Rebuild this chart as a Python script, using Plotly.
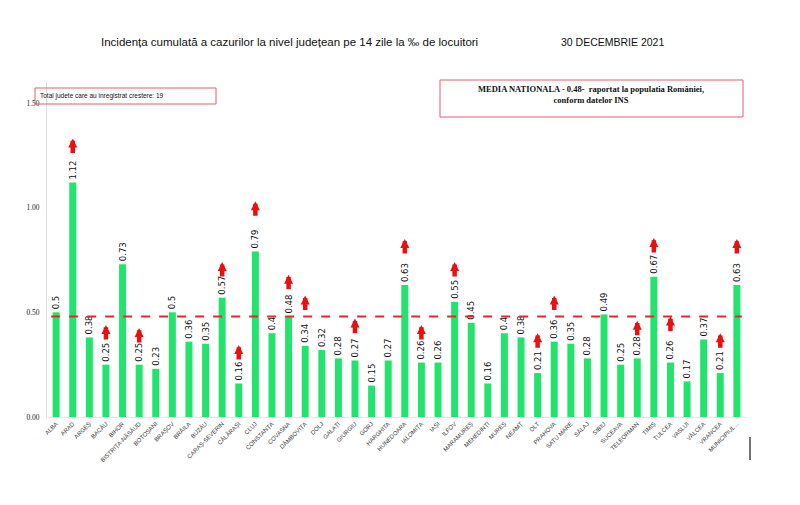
import plotly.graph_objects as go

judete = ["ALBA", "ARAD", "ARGEȘ", "BACĂU", "BIHOR", "BISTRIȚA-NĂSĂUD", "BOTOȘANI", "BRAȘOV",
          "BRĂILA", "BUZĂU", "CARAȘ-SEVERIN", "CĂLĂRAȘI", "CLUJ", "CONSTANȚA", "COVASNA",
          "DÂMBOVIȚA", "DOLJ", "GALAȚI", "GIURGIU", "GORJ", "HARGHITA", "HUNEDOARA", "IALOMIȚA",
          "IAȘI", "ILFOV", "MARAMUREȘ", "MEHEDINȚI", "MUREȘ", "NEAMȚ", "OLT", "PRAHOVA",
          "SATU MARE", "SĂLAJ", "SIBIU", "SUCEAVA", "TELEORMAN", "TIMIȘ", "TULCEA", "VASLUI",
          "VÂLCEA", "VRANCEA", "MUNICIPIUL..."]
incidenta = [0.5, 1.12, 0.38, 0.25, 0.73, 0.25, 0.23, 0.5, 0.36, 0.35, 0.57, 0.16, 0.79, 0.4,
             0.48, 0.34, 0.32, 0.28, 0.27, 0.15, 0.27, 0.63, 0.26, 0.26, 0.55, 0.45, 0.16, 0.4,
             0.38, 0.21, 0.36, 0.35, 0.28, 0.49, 0.25, 0.28, 0.67, 0.26, 0.17, 0.37, 0.21, 0.63]
media_nationala = 0.48
# counties with increase and the level at which the red arrow tip sits
crestere = ["ARAD", "BACĂU", "BISTRIȚA-NĂSĂUD", "CARAȘ-SEVERIN", "CĂLĂRAȘI", "CLUJ", "COVASNA",
            "DÂMBOVIȚA", "GIURGIU", "HUNEDOARA", "IALOMIȚA", "ILFOV", "OLT", "PRAHOVA",
            "TELEORMAN", "TIMIȘ", "TULCEA", "VRANCEA", "MUNICIPIUL..."]
sageata_varf = [1.33, 0.44, 0.425, 0.74, 0.344, 1.03, 0.68, 0.58, 0.47, 0.85, 0.44, 0.74, 0.40,
                0.58, 0.46, 0.855, 0.48, 0.40, 0.85]
y_ticks = [0.0, 0.5, 1.0, 1.5]
y_tick_text = ["0.00", "0.50", "1.00", "1.50"]

idx = list(range(len(judete)))

# page has an 8px body margin: figure pixel = page pixel - 8
OFF = 8
W, H = 784, 489
L, R, T, B = 39, 46, 74, 80
pw, ph = W - L - R, H - T - B
def px(x):
    return (x - OFF - L) / pw
def py(y):
    return (H - B - (y - OFF)) / ph

fig = go.Figure()
fig.add_trace(go.Bar(
    x=idx, y=incidenta,
    marker=dict(color="#22E46C", line=dict(width=0)),
    text=[f"{v:g}" for v in incidenta],
    textposition="outside", textangle=-90,
    textfont=dict(family="DejaVu Sans", size=8.5, color="#111111"),
    constraintext="none",
    cliponaxis=False,
    width=0.42,
    hoverinfo="skip",
))

# national average dashed line
fig.add_shape(type="line", xref="x", yref="y", x0=-0.3, x1=len(judete) - 0.7,
              y0=media_nationala, y1=media_nationala,
              line=dict(color="#E5262B", width=2.2, dash="dash"))

# red arrows for counties with increase
for j, top in zip(crestere, sageata_varf):
    i = judete.index(j)
    fig.add_annotation(x=i, y=top, xref="x", yref="y", text="", showarrow=True,
                       ax=0, ay=16, arrowhead=2, arrowsize=0.4, arrowwidth=4.5,
                       arrowcolor="#E81010", standoff=0, startstandoff=0)

fig.update_layout(
    width=W, height=H,
    margin=dict(l=L, r=R, t=T, b=B, autoexpand=False),
    paper_bgcolor="white", plot_bgcolor="white",
    showlegend=False,
    xaxis=dict(
        tickmode="array", tickvals=idx, ticktext=judete, tickangle=-45,
        tickfont=dict(family="Liberation Sans", size=6, color="#3A3A3A"),
        range=[-0.55, len(judete) - 0.45],
        showgrid=False, zeroline=False, showline=True, linecolor="#E6E6E6", linewidth=1,
        ticks="",
    ),
    yaxis=dict(
        range=[0, 1.6], tickmode="array", tickvals=y_ticks, ticktext=y_tick_text,
        tickfont=dict(family="Liberation Serif", size=7.5, color="#222222"),
        showgrid=False, zeroline=False, showline=True, linecolor="#DDDDDD", linewidth=1,
        ticks="", ticklabelstandoff=5,
    ),
)

fig.add_annotation(xref="paper", yref="paper", x=px(289), y=py(42),
                   text="Incidența cumulată a cazurilor la nivel județean pe 14 zile la ‰ de locuitori",
                   showarrow=False, font=dict(family="Liberation Sans", size=11.5, color="#111111"),
                   xanchor="center", yanchor="middle")
fig.add_annotation(xref="paper", yref="paper", x=px(612), y=py(42),
                   text="30 DECEMBRIE 2021", showarrow=False,
                   font=dict(family="Liberation Sans", size=10.5, color="#111111"),
                   xanchor="center", yanchor="middle")

# left box
fig.add_shape(type="rect", xref="paper", yref="paper", x0=px(35), x1=px(216), y0=py(104), y1=py(88),
              line=dict(color="#E06070", width=1), fillcolor="rgba(0,0,0,0)")
fig.add_annotation(xref="paper", yref="paper", x=px(38), y=py(96),
                   text="Total judete care au inregistrat crestere: 19", showarrow=False,
                   font=dict(family="Liberation Sans", size=6.5, color="#111111"),
                   xanchor="left", yanchor="middle")
# right box
fig.add_shape(type="rect", xref="paper", yref="paper", x0=px(440), x1=px(743), y0=py(117), y1=py(80),
              line=dict(color="#E06070", width=1), fillcolor="rgba(0,0,0,0)")
fig.add_annotation(xref="paper", yref="paper", x=px(591), y=py(94),
                   text=f"<b>MEDIA NATIONALA - {media_nationala:.2f}-  raportat la populatia României,<br>conform datelor INS</b>",
                   showarrow=False, font=dict(family="Liberation Serif", size=8.5, color="#111111"),
                   xanchor="center", yanchor="middle")

# small stray vertical mark at bottom right
fig.add_shape(type="line", xref="paper", yref="paper", x0=px(750), x1=px(750), y0=py(460), y1=py(437),
              line=dict(color="#444444", width=1.5))

fig.write_html("out.html")
